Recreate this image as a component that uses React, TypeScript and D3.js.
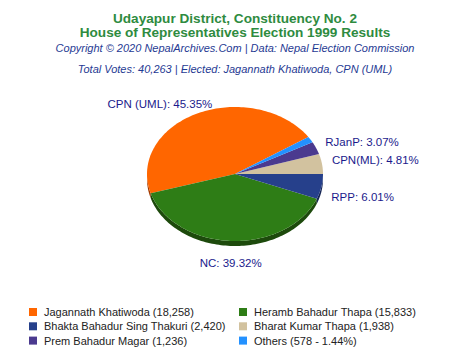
import React from "react";
import * as d3 from "d3";

const parties = ["CPN (UML)", "NC", "RPP", "CPN(ML)", "RJanP", "Others"];
const candidates = [
  "Jagannath Khatiwoda",
  "Heramb Bahadur Thapa",
  "Bhakta Bahadur Sing Thakuri",
  "Bharat Kumar Thapa",
  "Prem Bahadur Magar",
  "Others",
];
const votes = [18258, 15833, 2420, 1938, 1236, 578];
const percents = ["45.35%", "39.32%", "6.01%", "4.81%", "3.07%", "1.44%"];
const colors = ["#ff6600", "#2e7d16", "#26408b", "#d2c29f", "#4b3a8f", "#2391ff"];
const sideColors = ["#a33a00", "#1d4a0c", "#162655", "#8a7d62", "#2c2255", "#155a9e"];

const W = 470;
const H = 352;
const cx = 235;
const cy = 174;
const rx = 88;
const ry = 67;
const depth = 5;
const font = "Arial, 'Liberation Sans', sans-serif";

function pt(t: number, dy = 0): [number, number] {
  return [cx + rx * Math.cos(t), cy + dy - ry * Math.sin(t)];
}

function arcPts(a: number, b: number, dy = 0): [number, number][] {
  const n = Math.max(2, Math.ceil(((b - a) / (Math.PI * 2)) * 240));
  const out: [number, number][] = [];
  for (let i = 0; i <= n; i++) out.push(pt(a + ((b - a) * i) / n, dy));
  return out;
}

export default function App() {
  const total = d3.sum(votes);
  // the last three slices sit just above the 3 o'clock line
  const offset = (d3.sum(votes.slice(3)) / total) * Math.PI * 2;
  const pie = d3
    .pie<number>()
    .sort(null)
    .startAngle(offset)
    .endAngle(offset + Math.PI * 2)
    .value((d) => d);
  const arcs = pie(votes);
  const line = d3.line();

  const sides: React.ReactNode[] = [];
  arcs.forEach((a, i) => {
    [
      [Math.PI, Math.PI * 2],
      [Math.PI * 3, Math.PI * 4],
    ].forEach(([lo, hi], k) => {
      const s = Math.max(a.startAngle, lo);
      const e = Math.min(a.endAngle, hi);
      if (e > s) {
        const top = arcPts(s, e, 0);
        const bot = arcPts(s, e, depth).reverse();
        sides.push(
          <path key={"s" + i + "_" + k} d={line([...top, ...bot])! + "Z"} fill={sideColors[i]} />
        );
      }
    });
  });

  const tops = arcs.map((a, i) => {
    const p = [[cx, cy] as [number, number], ...arcPts(a.startAngle, a.endAngle)];
    return <path key={"t" + i} d={line(p)! + "Z"} fill={colors[i]} />;
  });

  const labels = arcs.map((a, i) => {
    if (i === 5) return null;
    const m = (a.startAngle + a.endAngle) / 2;
    const c = Math.cos(m);
    const s = Math.sin(m);
    const off = s < -0.8 ? 14 : 10;
    let x = cx + (rx + off) * c;
    if (c < -0.2) x += (1 + c) * 33;
    const y =
      s < 0
        ? cy + depth - (ry + off) * s + 7.5
        : cy - (ry + off) * s + 4 - 3 * (1 - s);
    const anchor = Math.abs(c) < 0.2 ? "middle" : c > 0 ? "start" : "end";
    return (
      <text key={"l" + i} x={x} y={y} textAnchor={anchor} fontSize={11.5} fill="#1a1a8c" fontFamily={font}>
        {parties[i]}: {percents[i]}
      </text>
    );
  });

  const fmt = d3.format(",");
  const legend = candidates.map((c, i) => {
    const col = i % 2;
    const row = Math.floor(i / 2);
    const x = col === 0 ? 29 : 239;
    const y = 312 + row * 14.3;
    const txt = i === 5 ? `${c} (${fmt(votes[i])} - ${percents[i]})` : `${c} (${fmt(votes[i])})`;
    return (
      <g key={"g" + i}>
        <rect x={x} y={y - 4} width={8} height={8} fill={colors[i]} />
        <text x={x + 15} y={y + 4} fontSize={11} fill="#222" fontFamily={font}>
          {txt}
        </text>
      </g>
    );
  });

  return (
    <svg width={W} height={H} style={{ position: "absolute", left: 0, top: 0 }}>
      <rect width={W} height={H} fill="#fff" />
      <text x={235} y={22.5} textAnchor="middle" fontSize={13.6} fontWeight="bold" fill="#2e8b40" fontFamily={font}>
        Udayapur District, Constituency No. 2
      </text>
      <text x={235} y={36.5} textAnchor="middle" fontSize={13.6} fontWeight="bold" fill="#2e8b40" fontFamily={font}>
        House of Representatives Election 1999 Results
      </text>
      <text x={235} y={51.5} textAnchor="middle" fontSize={11} fontStyle="italic" fill="#1f3a93" fontFamily={font}>
        Copyright © 2020 NepalArchives.Com | Data: Nepal Election Commission
      </text>
      <text x={235} y={73} textAnchor="middle" fontSize={11} fontStyle="italic" fill="#1f3a93" fontFamily={font}>
        Total Votes: 40,263 | Elected: Jagannath Khatiwoda, CPN (UML)
      </text>
      {sides}
      {tops}
      {labels}
      {legend}
    </svg>
  );
}
